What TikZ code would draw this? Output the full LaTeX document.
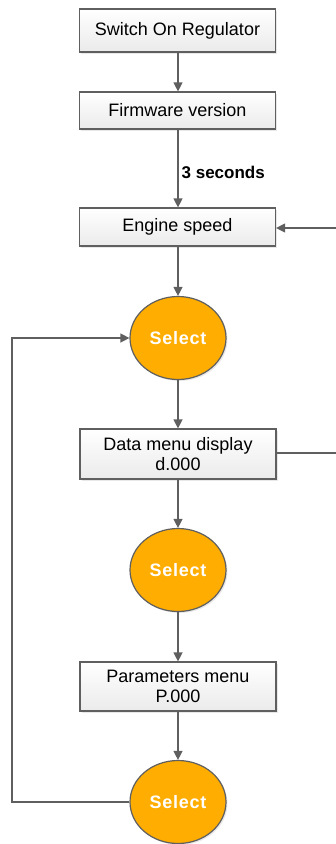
\documentclass[tikz,border=0pt]{standalone}
\usepackage{fontspec}
\setmainfont{Liberation Sans}
\usetikzlibrary{arrows.meta,shadows,shapes.geometric}
\definecolor{linegray}{RGB}{95,95,95}
\definecolor{selorange}{RGB}{255,173,0}
\tikzset{
  x=1pt, y=-1pt,
  stepbox/.style={draw=linegray, line width=1.2pt, top color=white, bottom color=black!8,
    minimum width=196pt, align=center, inner sep=0pt,
    drop shadow={shadow xshift=1.5pt, shadow yshift=-1.5pt, fill=black!15, opacity=0.6},
    font=\fontsize{18}{20.5}\selectfont},
  selnode/.style={ellipse, draw=linegray, line width=1.2pt, fill=selorange,
    minimum width=96pt, minimum height=83pt, inner sep=0pt,
    drop shadow={shadow xshift=1.5pt, shadow yshift=-1.5pt, fill=black!15, opacity=0.6},
    text=white, font=\fontsize{18}{20}\selectfont\bfseries\addfontfeature{LetterSpace=4}},
  flow/.style={draw=linegray, line width=1.3pt, -{Triangle[length=9pt,width=9pt]}},
  plain/.style={draw=linegray, line width=1.3pt},
}
\begin{document}
\begin{tikzpicture}
\useasboundingbox (0,0) rectangle (336,844);
\node[stepbox, minimum height=43pt] (sw) at (177.5,30.5) {Switch On Regulator};
\node[stepbox, minimum height=37pt] (fw) at (177.5,110.5) {Firmware version};
\node[stepbox, minimum height=38pt] (es) at (177.5,227) {Engine speed};
\node[selnode] (s1) at (178,338) {Select};
\node[stepbox, minimum height=50pt] (dm) at (178,454) {Data menu display\\d.000};
\node[selnode] (s2) at (178,570) {Select};
\node[stepbox, minimum height=49pt] (pm) at (178,686.5) {Parameters menu\\P.000};
\node[selnode] (s3) at (178,802) {Select};

\coordinate (rin) at (336,228);
\coordinate (rout) at (336,453);
\coordinate (lbot) at (12,802);
\coordinate (ltop) at (12,338);

\draw[flow] (sw.south -| s1) -- (fw.north -| s1);
\draw[flow] (fw.south -| s1) -- node[right, inner sep=3pt, font=\fontsize{17}{20}\selectfont\bfseries, yshift=-4pt] {3 seconds} (es.north -| s1);
\draw[flow] (rin) -- (es.east |- rin);
\draw[flow] (es.south -| s1) -- (s1);
\draw[flow] (s1) -- (dm);
\draw[plain] (dm.east |- rout) -- (rout);
\draw[flow] (dm) -- (s2);
\draw[flow] (s2) -- (pm);
\draw[flow] (pm) -- (s3);
\draw[flow] (s3.west) -- (lbot) -- (ltop) -- (s1.west);
\end{tikzpicture}
\end{document}
